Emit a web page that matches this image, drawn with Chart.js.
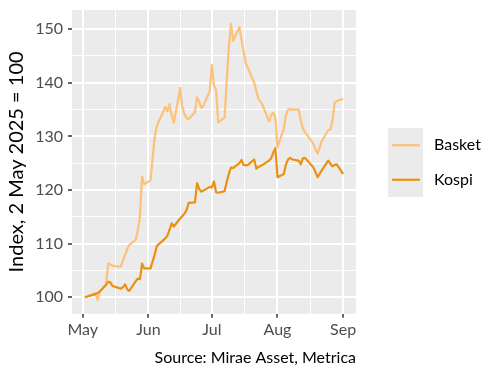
<!DOCTYPE html>
<html>
<head>
<meta charset="utf-8">
<script src="https://cdn.jsdelivr.net/npm/chart.js@4.4.1/dist/chart.umd.min.js"></script>
<style>
  html, body { margin: 0; padding: 0; background: #fff; }
</style>
</head>
<body>
<canvas id="indexChart" width="504" height="378"></canvas>
<script>
// trading days, 2025
const dates = [
  "05-02","05-07","05-08","05-09","05-12","05-13","05-14","05-15","05-16","05-19",
  "05-20","05-21","05-22","05-23","05-26","05-27","05-28","05-29","05-30",
  "06-02","06-04","06-05","06-09","06-10","06-11","06-12","06-13","06-16","06-17",
  "06-18","06-19","06-20","06-23","06-24","06-25","06-26","06-27","06-30",
  "07-01","07-02","07-03","07-04","07-07","07-08","07-09","07-10","07-11","07-14",
  "07-15","07-16","07-17","07-18","07-21","07-22","07-23","07-24","07-25","07-28",
  "07-29","07-30","07-31",
  "08-01","08-04","08-05","08-06","08-07","08-08","08-11","08-12","08-13","08-14",
  "08-18","08-19","08-20","08-21","08-22","08-25","08-26","08-27","08-28","08-29",
  "09-01"
];

const basket = [
  100.0, 100.8, 99.5, 101.0, 102.5, 106.3, 106.1, 105.9, 105.8, 105.7,
  106.9, 107.9, 109.0, 109.8, 110.7, 112.5, 115.0, 122.5, 121.1,
  121.8, 130.0, 132.0, 135.5, 134.7, 136.0, 134.0, 132.5, 139.0, 135.5,
  134.2, 133.5, 133.2, 134.5, 137.3, 136.5, 135.3, 135.7, 138.5,
  143.3, 139.5, 138.6, 132.6, 133.5, 140.4, 146.5, 151.0, 147.8, 150.4,
  148.0, 145.8, 143.6, 142.8, 140.0, 138.5, 137.0, 136.5, 135.8, 132.8,
  134.0, 134.4, 133.6,
  128.0, 131.5, 134.0, 135.0, 135.1, 135.0, 135.0, 133.0, 131.5, 130.8,
  128.6, 127.6, 126.8, 128.0, 129.2, 131.2, 131.3, 133.0, 136.3, 136.6,
  137.0
];

const kospi = [
  100.0, 100.6, 100.8, 101.1, 102.3, 102.9, 102.8, 102.1, 102.0, 101.6,
  101.9, 102.4, 101.5, 101.2, 103.0, 103.5, 103.4, 106.3, 105.4,
  105.4, 108.0, 109.6, 111.0, 111.5, 112.6, 113.8, 113.2, 114.7, 115.1,
  115.6, 116.2, 117.6, 117.7, 121.3, 120.2, 119.7, 119.9, 120.6,
  120.5, 121.6, 119.6, 119.5, 119.8, 121.5, 123.0, 124.2, 124.1, 125.0,
  125.6, 124.7, 124.6, 124.7, 125.7, 124.0, 124.3, 124.5, 124.7, 125.5,
  125.9, 127.0, 127.8,
  122.4, 123.0, 124.8, 125.7, 126.0, 125.7, 125.5, 124.8, 125.9, 126.0,
  124.2, 123.3, 122.4, 123.1, 123.7, 125.5, 124.9, 124.4, 124.7, 124.8,
  123.0
];

const monthTicks = ["05-01", "06-01", "07-01", "08-01", "09-01"];
const monthLabels = ["May", "Jun", "Jul", "Aug", "Sep"];
const yTicks = [100, 110, 120, 130, 140, 150];

const seriesNames = ["Basket", "Kospi"];
const seriesColors = ["#fcc17a", "#ec9012"];

// days since 1 May
function dayNum(s) {
  const [m, d] = s.split("-").map(Number);
  return (Date.UTC(2025, m - 1, d) - Date.UTC(2025, 4, 1)) / 86400000;
}

const xs = dates.map(dayNum);
const majorX = monthTicks.map(dayNum);
const minorX = majorX.slice(1).map((v, i) => (v + majorX[i]) / 2);

// ggplot style 5% expansion
const allY = basket.concat(kospi);
const yLo = Math.min(...allY), yHi = Math.max(...allY);
const yPad = (yHi - yLo) * 0.05;
const xPad = (xs[xs.length - 1] - xs[0]) * 0.05;
const minorY = yTicks.map(v => v + 5).filter(v => v < yHi + yPad);

const font = "Lato";

const panelBg = {
  id: "panelBg",
  beforeDraw(chart) {
    const { ctx, chartArea: a } = chart;
    ctx.save();
    ctx.fillStyle = "#ebebeb";
    ctx.fillRect(a.left, a.top, a.right - a.left, a.bottom - a.top);
    ctx.restore();
  }
};

const sideLegend = {
  id: "sideLegend",
  afterDraw(chart) {
    const ctx = chart.ctx;
    const x0 = 388, y0 = 128, keyW = 35, keyH = 34.5;
    const sets = chart.data.datasets;
    ctx.save();
    ctx.fillStyle = "#ebebeb";
    ctx.fillRect(x0, y0, keyW, keyH * sets.length);
    sets.forEach((ds, i) => {
      const cy = y0 + keyH * i + keyH / 2;
      ctx.strokeStyle = ds.borderColor;
      ctx.lineWidth = 2.2;
      ctx.beginPath();
      ctx.moveTo(x0 + 4, cy);
      ctx.lineTo(x0 + keyW - 3, cy);
      ctx.stroke();
      ctx.fillStyle = "#000";
      ctx.font = "16px " + font;
      ctx.textBaseline = "middle";
      ctx.fillText(ds.label, x0 + keyW + 11, cy);
    });
    ctx.restore();
  }
};

function gridOpts(isMajor) {
  return {
    color: "#ffffff",
    lineWidth: c => (c.tick && isMajor(c.tick.value)) ? 2 : 1,
    drawTicks: true,
    tickLength: 4,
    tickWidth: 1.5,
    tickColor: c => (c.tick && isMajor(c.tick.value)) ? "#333333" : "rgba(0,0,0,0)"
  };
}

const ctx = document.getElementById("indexChart").getContext("2d");

new Chart(ctx, {
  type: "line",
  data: {
    datasets: [
      {
        label: seriesNames[0],
        data: xs.map((x, i) => ({ x: x, y: basket[i] })),
        borderColor: seriesColors[0],
        borderWidth: 2.2,
        borderJoinStyle: "round",
        pointRadius: 0,
        tension: 0,
        order: 1
      },
      {
        label: seriesNames[1],
        data: xs.map((x, i) => ({ x: x, y: kospi[i] })),
        borderColor: seriesColors[1],
        borderWidth: 2.2,
        borderJoinStyle: "round",
        pointRadius: 0,
        tension: 0,
        order: 0
      }
    ]
  },
  options: {
    responsive: false,
    animation: false,
    layout: { padding: { left: 0, right: 148, top: 10, bottom: 11 } },
    plugins: {
      legend: { display: false },
      tooltip: { enabled: false },
      title: {
        display: true,
        text: "Source: Mirae Asset, Metrica",
        position: "bottom",
        align: "end",
        color: "#000",
        font: { family: font, size: 16, weight: "normal" },
        padding: { top: 4, bottom: 0 }
      }
    },
    scales: {
      x: {
        type: "linear",
        min: xs[0] - xPad,
        max: xs[xs.length - 1] + xPad,
        afterBuildTicks: s => {
          s.ticks = majorX.concat(minorX).sort((a, b) => a - b).map(v => ({ value: v }));
        },
        afterFit: s => { s.height = 30; },
        ticks: {
          autoSkip: false,
          maxRotation: 0,
          padding: 2,
          color: "#4d4d4d",
          font: { family: font, size: 16 },
          callback: v => {
            const i = majorX.indexOf(v);
            return i >= 0 ? monthLabels[i] : "";
          }
        },
        grid: gridOpts(v => majorX.includes(v)),
        border: { display: false }
      },
      y: {
        min: yLo - yPad,
        max: yHi + yPad,
        afterBuildTicks: s => {
          s.ticks = yTicks.concat(minorY).sort((a, b) => a - b).map(v => ({ value: v }));
        },
        afterFit: s => {
          s.width = 72;
          // labels sit well inside the panel, no extra room needed
          s.paddingTop = 0;
          s.paddingBottom = 0;
        },
        ticks: {
          autoSkip: false,
          padding: 5,
          color: "#4d4d4d",
          font: { family: font, size: 16 },
          callback: v => yTicks.includes(v) ? String(v) : ""
        },
        grid: gridOpts(v => yTicks.includes(v)),
        border: { display: false },
        title: {
          display: true,
          text: "Index, 2 May 2025 = 100",
          color: "#000",
          font: { family: font, size: 20 },
          padding: { top: 5, bottom: 0 }
        }
      }
    }
  },
  plugins: [panelBg, sideLegend]
});
</script>
</body>
</html>
